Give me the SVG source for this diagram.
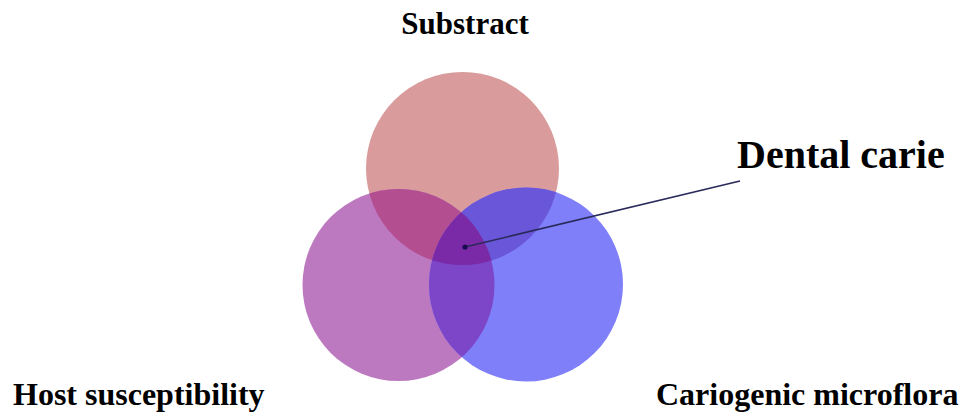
<svg xmlns="http://www.w3.org/2000/svg" width="966" height="412" viewBox="0 0 966 412">
<style>
  .lbl { font-family: "Liberation Serif", "Times New Roman", serif; font-weight: bold; fill: #000; }
</style>
<defs>
  <clipPath id="clipT"><circle cx="462.5" cy="168.5" r="96.5"/></clipPath>
  <clipPath id="clipL"><circle cx="398.5" cy="285" r="96"/></clipPath>
  <clipPath id="clipR"><circle cx="526" cy="284.5" r="97"/></clipPath>
</defs>
<rect width="966" height="412" fill="#ffffff"/>
<g id="substract">
  <circle cx="462.5" cy="168.5" r="96.5" fill="#d99b9b"/>
  <text class="lbl" x="465" y="34" font-size="31" text-anchor="middle">Substract</text>
</g>
<g id="host-susceptibility">
  <circle cx="398.5" cy="285" r="96" fill="#bd79c0"/>
  <text class="lbl" x="13" y="405" font-size="32">Host susceptibility</text>
</g>
<g id="cariogenic-microflora">
  <circle cx="526" cy="284.5" r="97" fill="#7f7ff9"/>
  <text class="lbl" x="656" y="405" font-size="32">Cariogenic microflora</text>
</g>
<g id="overlaps">
  <circle cx="398.5" cy="285" r="96" fill="#b34f90" clip-path="url(#clipT)"/>
  <circle cx="526" cy="284.5" r="97" fill="#6a56d8" clip-path="url(#clipT)"/>
  <circle cx="526" cy="284.5" r="97" fill="#7d46c8" clip-path="url(#clipL)"/>
  <g clip-path="url(#clipT)">
    <circle cx="526" cy="284.5" r="97" fill="#7a2aa6" clip-path="url(#clipL)"/>
  </g>
</g>
<g id="connectors">
  <line x1="465" y1="247" x2="740" y2="181" stroke="#2a2a5a" stroke-width="1.6"/>
  <circle cx="465" cy="247" r="2.6" fill="#1a0a50"/>
</g>
<g id="dental-carie">
  <text class="lbl" x="737" y="168" font-size="40">Dental carie</text>
</g>
</svg>
